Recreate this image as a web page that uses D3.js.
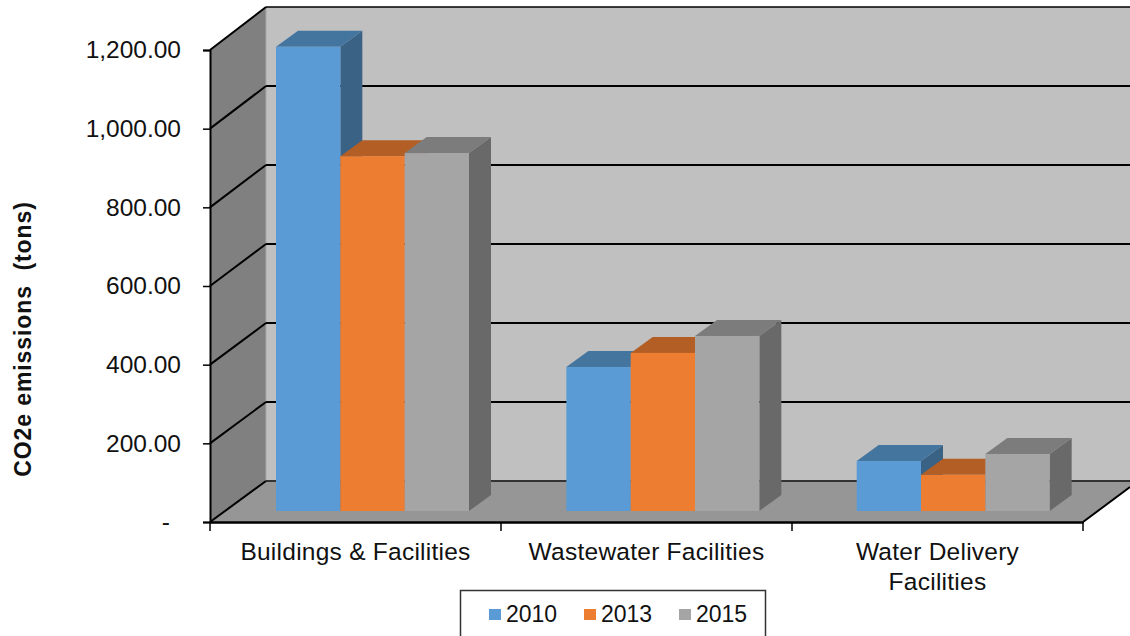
<!DOCTYPE html>
<html><head><meta charset="utf-8">
<script src="https://cdn.jsdelivr.net/npm/d3@7"></script>
<style>html,body{margin:0;padding:0;background:#fff;overflow:hidden}svg{display:block}text{font-family:"Liberation Sans",Arial,sans-serif;fill:#111}</style>
</head><body><svg id="c" width="1130" height="636"></svg>
<script>
const categories = ["Buildings & Facilities","Wastewater Facilities","Water Delivery Facilities"];
const categoryLines = [["Buildings & Facilities"],["Wastewater Facilities"],["Water Delivery","Facilities"]];
const seriesNames = ["2010","2013","2015"];
const values2010 = [1180,366,127];
const values2013 = [902,402,92];
const values2015 = [910,445,145];
const tickValues = [0,200,400,600,800,1000,1200];
const tickLabels = ["-","200.00","400.00","600.00","800.00","1,000.00","1,200.00"];
const faceColors = ["#5b9bd5","#ed7d31","#a5a5a5"];
const topColors = ["#44759f","#b25e24","#7c7c7c"];
const sideColors = ["#3a6285","#9e5320","#696969"];

const svg = d3.select("#c");
const yFront = d3.scaleLinear().domain([0,1200]).range([522,50]);
const yBack  = d3.scaleLinear().domain([0,1200]).range([481,7]);
const yBar   = d3.scaleLinear().domain([0,1200]).range([511,39]);
const xFront = d3.scaleBand().domain(categories).range([210,1083]);
const xBar   = d3.scaleBand().domain(categories).range([227,1098]);
const xSeries= d3.scaleBand().domain(seriesNames).range([49,242]);
const barDx = 22, barDy = 16;
const poly = p => p.map(q=>q.join(",")).join(" ");
const W = 1130;

// walls
svg.append("polygon").attr("points",poly([[266,yBack(1200)],[W,yBack(1200)],[W,yBack(0)],[266,yBack(0)]])).attr("fill","#c0c0c0");
svg.append("polygon").attr("points",poly([[210,yFront(1200)],[266,yBack(1200)],[266,yBack(0)],[210,yFront(0)]])).attr("fill","#808080");
svg.append("line").attr("x1",266).attr("x2",266).attr("y1",yBack(1200)).attr("y2",yBack(0)).attr("stroke","#a8a8a8").attr("stroke-width",1);
// floor
svg.append("polygon").attr("points",poly([[210,yFront(0)],[266,yBack(0)],[W,yBack(0)],[W,yBack(0)+6],[1083,yFront(0)]])).attr("fill","#969696");

// gridlines: back wall + left wall
tickValues.forEach(v=>{
  svg.append("line").attr("x1",266).attr("x2",W).attr("y1",yBack(v)).attr("y2",yBack(v))
    .attr("stroke",v===0?"#333":"#000").attr("stroke-width",v===1200?1.5:2);
  svg.append("line").attr("x1",210).attr("x2",266).attr("y1",yFront(v)).attr("y2",yBack(v))
    .attr("stroke","#000").attr("stroke-width",2);
});
svg.append("line").attr("x1",1083).attr("x2",W).attr("y1",yFront(0)).attr("y2",yBack(0)+6).attr("stroke","#000").attr("stroke-width",2);

// bars
const allValues = [values2010,values2013,values2015];
categories.forEach((c,ci)=>{
  seriesNames.forEach((s,si)=>{
    const v = allValues[si][ci];
    const x0 = xBar(c)+xSeries(s), x1 = x0+xSeries.bandwidth();
    const yT = yBar(v), yB = yBar(0);
    const g = svg.append("g").attr("class","bar");
    g.append("polygon").attr("points",poly([[x1,yT],[x1+barDx,yT-barDy],[x1+barDx,yB-barDy],[x1,yB]])).attr("fill",sideColors[si]);
    g.append("polygon").attr("points",poly([[x0,yT],[x0+barDx,yT-barDy],[x1+barDx,yT-barDy],[x1,yT]])).attr("fill",topColors[si]);
    g.append("rect").attr("x",x0).attr("y",yT).attr("width",x1-x0).attr("height",yB-yT).attr("fill",faceColors[si]);
  });
});

// y axis
const yAxis = svg.append("g").attr("transform","translate(210,0)")
  .call(d3.axisLeft(yFront).tickValues(tickValues).tickSize(7).tickPadding(22)
    .tickFormat(d=>tickLabels[tickValues.indexOf(d)]));
yAxis.select(".domain").attr("stroke","#000").attr("stroke-width",2);
yAxis.selectAll(".tick line").attr("stroke","#000").attr("stroke-width",1.5);
yAxis.selectAll("text").attr("font-size",24.5).attr("fill","#111").attr("font-family","Liberation Sans");
yAxis.selectAll(".tick").filter(d=>d===0).select("text").attr("dx",-11);

// x axis
const xAxis = svg.append("g").attr("transform","translate(0,522)")
  .call(d3.axisBottom(xFront).tickSize(0).tickFormat(""));
xAxis.select(".domain").attr("stroke","#000").attr("stroke-width",2.5);
xAxis.selectAll(".tick").each(function(d,i){
  const t = d3.select(this).append("text").attr("text-anchor","middle").attr("font-size",24.5).attr("letter-spacing",0.25).attr("fill","#111");
  categoryLines[i].forEach((ln,li)=>t.append("tspan").attr("x",0).attr("y",38+li*30).text(ln));
});
[0,1,2,3].forEach(i=>{
  const x = xFront.range()[0]+i*xFront.step();
  xAxis.append("line").attr("x1",x).attr("x2",x).attr("y1",0).attr("y2",9).attr("stroke","#000").attr("stroke-width",1.5);
});

// axis title
svg.append("text").attr("transform","translate(31,339) rotate(-90)").attr("text-anchor","middle")
  .attr("font-size",23).attr("font-weight","bold").attr("letter-spacing",0.9).style("white-space","pre").text("CO2e emissions  (tons)");

// legend
svg.append("path").attr("d","M460.5,636V590.5H765.5V636").attr("fill","#fff").attr("stroke","#333").attr("stroke-width",1.5);
const legendX = d3.scaleOrdinal().domain(seriesNames).range([489,584,679]);
seriesNames.forEach((s,i)=>{
  const lx = legendX(s);
  svg.append("rect").attr("x",lx).attr("y",609).attr("width",12).attr("height",11).attr("fill",faceColors[i]);
  svg.append("text").attr("x",lx+17).attr("y",622).attr("font-size",23).text(s);
});
</script></body></html>
